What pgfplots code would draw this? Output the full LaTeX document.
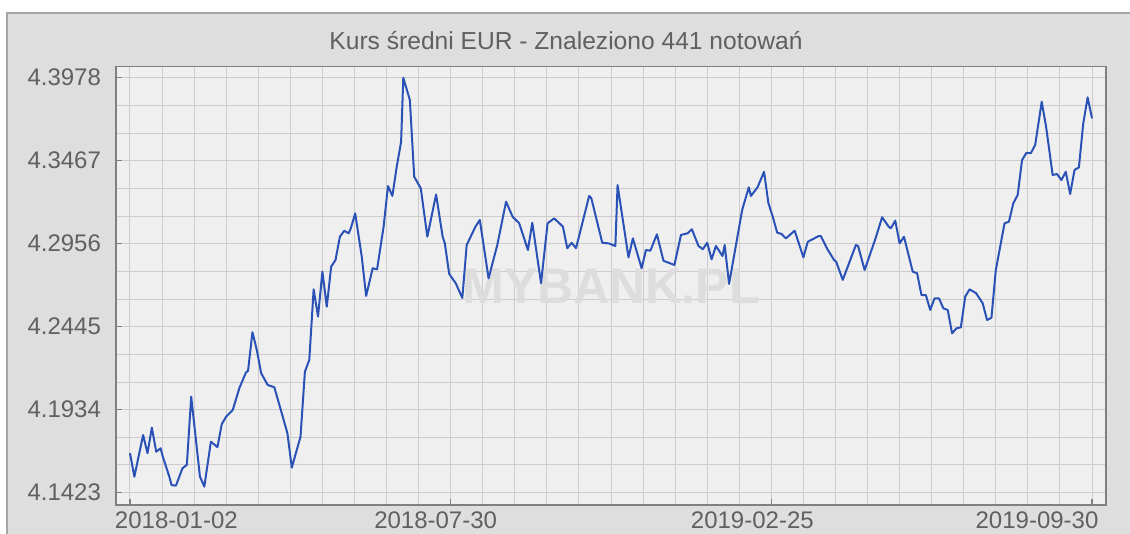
\documentclass[border=0pt]{standalone}
\usepackage{pgfplots}
\pgfplotsset{compat=1.18}
\usepackage{fontspec}
\setmainfont{Liberation Sans}
\definecolor{framebg}{RGB}{222,222,222}
\definecolor{frameline}{RGB}{165,165,165}
\definecolor{plotbg}{RGB}{239,239,239}
\definecolor{gridc}{RGB}{204,204,204}
\definecolor{axisc}{RGB}{128,128,128}
\definecolor{textc}{RGB}{96,96,96}
\definecolor{linec}{RGB}{42,82,182}
\definecolor{wmark}{RGB}{221,221,221}
\begin{document}
\begin{tikzpicture}
\useasboundingbox (-58pt,-14.5pt) rectangle (507pt,252.5pt);
\fill[framebg] (-54.5pt,-20pt) rectangle (520pt,246pt);
\draw[frameline, line width=0.8pt] (-54.5pt,-20pt) -- (-54.5pt,246pt) -- (520pt,246pt);
\node[anchor=base, text=textc, font=\fontsize{12.3}{14}\selectfont] at (225pt,227.5pt) {Kurs średni EUR - Znaleziono 441 notowań};
\begin{axis}[
  at={(0pt,0pt)}, anchor=south west,
  scale only axis, width=495pt, height=219.15pt,
  xmin=-6.4, xmax=446.4, ymin=4.1347, ymax=4.4046,
  axis background/.style={fill=plotbg},
  xtick={0,146.667,293.333,440},
  xticklabels={{\makebox[0pt][l]{\kern-7.5pt 2018-01-02}},{\makebox[0pt][c]{\kern-15pt 2018-07-30}},{\makebox[0pt][c]{\kern-19pt 2019-02-25}},{\makebox[0pt][r]{2019-09-30\kern-3.2pt}}},
  ytick={4.1423,4.1934,4.2445,4.2956,4.3467,4.3978},
  yticklabels={4.1423,4.1934,4.2445,4.2956,4.3467,4.3978},
  minor xtick={14.667,29.333,44,58.667,73.333,88,102.667,117.333,132,161.333,176,190.667,205.333,220,234.667,249.333,264,278.667,308,322.667,337.333,352,366.667,381.333,396,410.667,425.333},
  minor ytick={4.159333,4.176367,4.210433,4.227467,4.261533,4.278567,4.312633,4.329667,4.363733,4.380767},
  grid=both,
  major grid style={color=gridc, line width=0.5pt},
  minor grid style={color=gridc, line width=0.5pt},
  tick align=inside, major tick length=3pt, minor tick length=0pt,
  xtick pos=bottom, ytick pos=left,
  tick style={color=axisc, line width=0.6pt},
  axis line style={color=axisc, line width=0.8pt},
  ticklabel style={text=textc, font=\fontsize{12}{14}\selectfont},
  yticklabel style={xshift=-4pt},
]
\node[text=wmark, font=\fontsize{25}{28}\selectfont\bfseries] at (rel axis cs:0.5,0.5) {MYBANK.PL};
\addplot[color=linec, line width=1pt, line join=round, mark=none] table {
x y
0 4.1666
2 4.1521
6 4.1778
8 4.1666
10 4.1823
12 4.1675
14 4.1696
15 4.1645
18 4.1521
19 4.1470
21 4.1466
24 4.1573
26 4.1594
28 4.2014
32 4.1521
34 4.1460
37 4.1737
40 4.1703
42 4.1846
44 4.1891
47 4.1932
50 4.2066
53 4.2162
54 4.2174
56 4.2411
58 4.2302
60 4.2158
63 4.2086
66 4.2072
69 4.1932
72 4.1789
74 4.1577
78 4.1768
80 4.2168
82 4.2240
84 4.2675
86 4.2507
88 4.2784
90 4.2568
92 4.2814
94 4.2856
96 4.2999
98 4.3036
100 4.3020
101 4.3051
103 4.3143
106 4.2876
108 4.2634
111 4.2805
113 4.2798
116 4.3061
118 4.3311
120 4.3250
122 4.3430
124 4.3584
125 4.3978
128 4.3841
130 4.3368
133 4.3297
136 4.2999
140 4.3259
143 4.2999
144 4.2958
146 4.2770
149 4.2712
152 4.2622
154 4.2948
158 4.3061
160 4.3102
164 4.2743
168 4.2948
172 4.3215
175 4.3122
178 4.3082
182 4.2917
184 4.3085
188 4.2712
191 4.3082
194 4.3112
198 4.3061
200 4.2928
202 4.2962
204 4.2928
210 4.3250
211 4.3236
216 4.2962
219 4.2958
222 4.2942
223 4.3317
228 4.2872
230 4.2989
234 4.2805
236 4.2917
238 4.2913
241 4.3014
244 4.2851
249 4.2825
252 4.3010
255 4.3020
257 4.3045
260 4.2942
262 4.2922
264 4.2962
266 4.2860
268 4.2942
271 4.2880
272 4.2948
274 4.2708
280 4.3164
283 4.3303
284 4.3250
287 4.3303
290 4.3399
292 4.3205
294 4.3122
296 4.3024
298 4.3016
300 4.2989
304 4.3036
308 4.2872
310 4.2968
315 4.3003
316 4.3003
319 4.2922
322 4.2856
323 4.2845
326 4.2733
332 4.2948
333 4.2942
336 4.2794
341 4.2989
344 4.3119
347 4.3061
348 4.3051
350 4.3098
352 4.2958
354 4.2999
358 4.2784
360 4.2774
362 4.2640
364 4.2640
366 4.2548
368 4.2620
370 4.2620
372 4.2558
374 4.2548
376 4.2404
378 4.2435
380 4.2441
382 4.2630
384 4.2675
387 4.2651
390 4.2589
392 4.2486
394 4.2500
396 4.2794
400 4.3082
402 4.3091
404 4.3205
406 4.3256
408 4.3471
410 4.3516
412 4.3513
414 4.3564
417 4.3830
419 4.3676
422 4.3379
424 4.3385
426 4.3348
428 4.3399
430 4.3262
432 4.3410
434 4.3426
436 4.3697
438 4.3857
440 4.3728
};
\end{axis}
\end{tikzpicture}
\end{document}
